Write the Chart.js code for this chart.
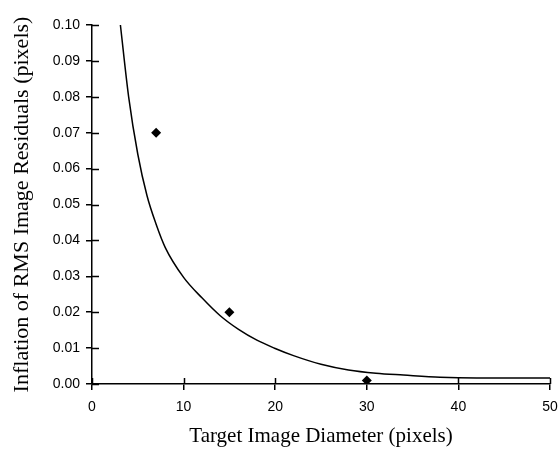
<!DOCTYPE html>
<html>
<head>
<meta charset="utf-8">
<script src="https://cdn.jsdelivr.net/npm/chart.js@4"></script>
<style>
  html, body { margin: 0; padding: 0; background: #fff; }
  #wrap { width: 558px; height: 449px; }
</style>
</head>
<body>
<div id="wrap"><canvas id="chart"></canvas></div>
<script>
// measured points
const measuredX = [7, 15, 30];
const measuredY = [0.07, 0.02, 0.001];

// fitted curve
const curveX = [3.1, 4, 5, 6, 7, 8, 10, 12, 14, 16, 18, 20, 22, 25, 28, 31, 34, 38, 42, 50];
const curveY = [0.1, 0.08, 0.064, 0.0525, 0.0445, 0.038, 0.0297, 0.024, 0.019, 0.0152, 0.0122, 0.0099, 0.0079, 0.0055, 0.0039, 0.003, 0.0025, 0.0019, 0.0017, 0.0017];

const xTicks = [0, 10, 20, 30, 40, 50];
const yTicks = [0, 0.01, 0.02, 0.03, 0.04, 0.05, 0.06, 0.07, 0.08, 0.09, 0.1];

const tickFont = { family: "Liberation Sans", size: 14 };

// tick marks that cross the axis line (inside part)
const innerTicks = {
  id: "innerTicks",
  afterDraw(chart) {
    const ctx = chart.ctx;
    const xs = chart.scales.x, ys = chart.scales.y;
    const area = chart.chartArea;
    ctx.save();
    ctx.strokeStyle = "#000";
    ctx.lineWidth = 1.5;
    ctx.beginPath();
    yTicks.forEach(v => {
      const py = Math.round(ys.getPixelForValue(v)) + 0.5;
      ctx.moveTo(area.left, py);
      ctx.lineTo(area.left + 7, py);
    });
    xTicks.forEach(v => {
      const px = Math.round(xs.getPixelForValue(v)) + 0.5;
      ctx.moveTo(px, area.bottom);
      ctx.lineTo(px, area.bottom - 6);
    });
    ctx.stroke();
    ctx.restore();
  }
};

new Chart(document.getElementById("chart"), {
  type: "scatter",
  data: {
    datasets: [
      {
        label: "fit",
        data: curveX.map((x, i) => ({ x: x, y: curveY[i] })),
        showLine: true,
        borderColor: "#000",
        borderWidth: 1.5,
        pointRadius: 0,
        cubicInterpolationMode: "monotone",
        fill: false
      },
      {
        label: "measured",
        data: measuredX.map((x, i) => ({ x: x, y: measuredY[i] })),
        pointStyle: "rectRot",
        pointRadius: 5,
        backgroundColor: "#000",
        borderColor: "#000",
        borderWidth: 0
      }
    ]
  },
  plugins: [innerTicks],
  options: {
    responsive: true,
    maintainAspectRatio: false,
    animation: false,
    layout: { padding: { top: 25, right: 0, left: 0, bottom: 0 } },
    plugins: { legend: { display: false }, tooltip: { enabled: false } },
    scales: {
      x: {
        type: "linear",
        min: 0, max: 50,
        afterBuildTicks: s => { s.ticks = xTicks.map(v => ({ value: v })); },
        afterFit: s => { s.height = 65; s.paddingRight = 8; },
        border: { color: "#000", width: 1.5 },
        grid: { drawOnChartArea: false, tickLength: 6, color: "#000", lineWidth: 1.5 },
        ticks: { color: "#000", font: tickFont, padding: 9, maxRotation: 0 },
        title: { display: true, text: "Target Image Diameter (pixels)", color: "#000",
                 font: { family: "Liberation Serif", size: 21 }, padding: { top: 0, bottom: 0 } }
      },
      y: {
        type: "linear",
        min: 0, max: 0.1,
        afterBuildTicks: s => { s.ticks = yTicks.map(v => ({ value: v })); },
        afterFit: s => { s.width = 92; },
        border: { color: "#000", width: 1.5 },
        grid: { drawOnChartArea: false, tickLength: 6, color: "#000", lineWidth: 1.5 },
        ticks: { color: "#000", font: tickFont, padding: 6, callback: v => v.toFixed(2) },
        title: { display: true, text: "Inflation of RMS Image Residuals (pixels)", color: "#000",
                 font: { family: "Liberation Serif", size: 22 }, padding: { top: 9, bottom: 0 } }
      }
    }
  }
});
</script>
</body>
</html>
